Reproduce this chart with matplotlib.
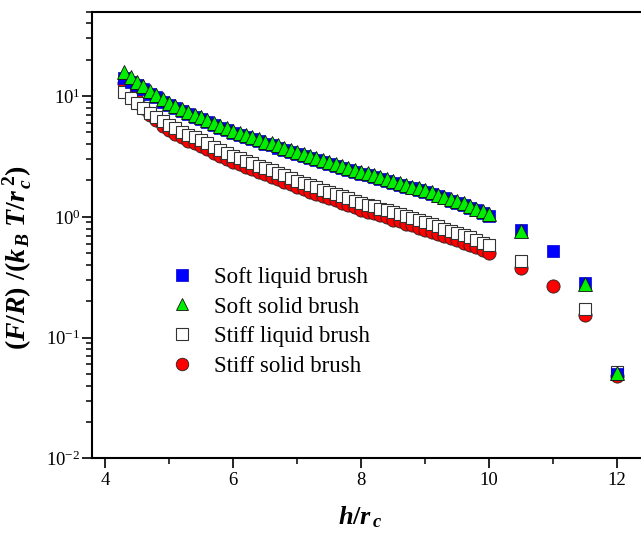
import numpy as np
import matplotlib
matplotlib.use("Agg")
import matplotlib.pyplot as plt
from matplotlib.lines import Line2D
from matplotlib.ticker import LogLocator, LogFormatterSciNotation, MultipleLocator, NullFormatter

plt.rcParams['font.family'] = ['Liberation Serif', 'DejaVu Serif']
plt.rcParams['mathtext.fontset'] = 'custom'
plt.rcParams['mathtext.rm'] = 'Liberation Serif:bold'
plt.rcParams['mathtext.it'] = 'Liberation Serif:bold:italic'
plt.rcParams['mathtext.bf'] = 'Liberation Serif:bold'

# separations h/r_c
h_main = [4.3, 4.4, 4.5, 4.6, 4.7, 4.8, 4.9, 5.0, 5.1, 5.2, 5.3, 5.4, 5.5, 5.6, 5.7,
          5.8, 5.9, 6.0, 6.1, 6.2, 6.3, 6.4, 6.5, 6.6, 6.7, 6.8, 6.9, 7.0, 7.1, 7.2,
          7.3, 7.4, 7.5, 7.6, 7.7, 7.8, 7.9, 8.0, 8.1, 8.2, 8.3, 8.4, 8.5, 8.6, 8.7,
          8.8, 8.9, 9.0, 9.1, 9.2, 9.3, 9.4, 9.5, 9.6, 9.7, 9.8, 9.9, 10.0]

# soft liquid brush
h_soft_liq = h_main + [10.5, 11.0, 11.5, 12.0]
f_soft_liq = [14.2, 13.2, 12.3, 11.4, 10.5, 9.8, 9.0, 8.4, 7.9, 7.5, 7.1, 6.75, 6.4, 6.1, 5.78,
              5.48, 5.2, 4.92, 4.72, 4.56, 4.38, 4.22, 4.04, 3.9, 3.75, 3.6, 3.46, 3.32, 3.2, 3.09,
              2.97, 2.86, 2.74, 2.65, 2.55, 2.46, 2.37, 2.28, 2.2, 2.13, 2.05, 1.97, 1.91, 1.84, 1.78,
              1.72, 1.66, 1.6, 1.54, 1.48, 1.42, 1.36, 1.3, 1.25, 1.19, 1.13, 1.07, 1.02,
              0.78, 0.52, 0.285, 0.05]

# soft solid brush
h_soft_sol = h_main + [10.5, 11.5, 12.0]
f_soft_sol = [15.7, 14.3, 13.2, 12.1, 11.1, 10.2, 9.4, 8.7, 8.2, 7.8, 7.4, 7.0, 6.7, 6.35, 6.0,
              5.7, 5.4, 5.1, 4.9, 4.75, 4.55, 4.4, 4.2, 4.05, 3.9, 3.75, 3.6, 3.45, 3.33, 3.21,
              3.09, 2.97, 2.85, 2.75, 2.65, 2.56, 2.46, 2.37, 2.29, 2.21, 2.13, 2.05, 1.98, 1.91, 1.85,
              1.78, 1.72, 1.66, 1.6, 1.53, 1.47, 1.41, 1.35, 1.29, 1.23, 1.17, 1.11, 1.05,
              0.77, 0.28, 0.051]

# stiff liquid brush
h_stiff_liq = h_main + [10.5, 11.5, 12.0]
f_stiff_liq = [10.9, 9.6, 8.7, 7.9, 7.25, 6.7, 6.2, 5.75, 5.4, 5.05, 4.75, 4.55, 4.33, 4.07, 3.82,
               3.6, 3.4, 3.2, 3.05, 2.92, 2.79, 2.66, 2.53, 2.42, 2.31, 2.2, 2.09, 1.98, 1.9, 1.83,
               1.75, 1.68, 1.61, 1.55, 1.49, 1.42, 1.36, 1.3, 1.26, 1.22, 1.17, 1.13, 1.09, 1.05, 1.01,
               0.97, 0.935, 0.9, 0.87, 0.84, 0.8, 0.77, 0.74, 0.71, 0.68, 0.645, 0.61, 0.58,
               0.43, 0.171, 0.052]

# stiff solid brush
h_stiff_sol = h_main + [10.5, 11.0, 11.5, 12.0]
f_stiff_sol = [12.8, 11.0, 9.3, 8.0, 7.0, 6.3, 5.7, 5.2, 4.85, 4.55, 4.25, 4.05, 3.85, 3.62, 3.4,
               3.2, 3.02, 2.85, 2.72, 2.6, 2.48, 2.36, 2.25, 2.15, 2.05, 1.95, 1.86, 1.76, 1.69, 1.62,
               1.55, 1.49, 1.42, 1.37, 1.31, 1.25, 1.2, 1.14, 1.1, 1.07, 1.03, 0.99, 0.95, 0.92, 0.88,
               0.85, 0.81, 0.78, 0.755, 0.725, 0.695, 0.665, 0.64, 0.61, 0.585, 0.56, 0.53, 0.5,
               0.38, 0.265, 0.155, 0.048]

labels = ['Soft liquid brush', 'Soft solid brush', 'Stiff liquid brush', 'Stiff solid brush']

fig = plt.figure(figsize=(6.41, 5.33), dpi=100)
ax = fig.add_axes([92.3 / 641, (533 - 458.3) / 533, 556.8 / 641, 446.6 / 533])

ax.plot(h_stiff_sol, f_stiff_sol, 'o', ms=9.5, mfc='#ff0000', mec='#222222', mew=0.6, ls='none', zorder=2)
ax.plot(h_stiff_liq, f_stiff_liq, 's', ms=9, mfc='white', mec='#333333', mew=0.8, ls='none', zorder=3)
ax.plot(h_soft_liq, f_soft_liq, 's', ms=9, mfc='#0000ff', mec='#0000cc', mew=0.5, ls='none', zorder=4)
ax.plot(h_soft_sol, f_soft_sol, '^', ms=10.5, mfc='#00ee00', mec='#111111', mew=0.6, ls='none', zorder=5)

ax.set_yscale('log')
ax.set_xlim(3.8, 12.5)
ax.set_ylim(0.01, 50)

ax.xaxis.set_major_locator(MultipleLocator(2))
ax.xaxis.set_minor_locator(MultipleLocator(1))
ax.yaxis.set_major_locator(LogLocator(base=10, numticks=10))
ax.yaxis.set_major_formatter(LogFormatterSciNotation())
ax.yaxis.set_minor_locator(LogLocator(base=10, subs=np.arange(2, 10), numticks=20))
ax.yaxis.set_minor_formatter(NullFormatter())

ax.tick_params(which='major', direction='out', length=7, width=1.2, labelsize=13.5)
ax.tick_params(axis='x', which='major', pad=3)
ax.tick_params(axis='y', which='major', pad=1.5)
ax.tick_params(which='minor', direction='out', length=4, width=1.1)
ax.tick_params(top=False, right=False)
for s in ax.spines.values():
    s.set_linewidth(1.5)

ax.set_ylabel(r'$\mathrm{(}F/R\mathrm{)\ /(}k_{\,B}\;T/r_{\,c}^{\;\mathrm{2}}\mathrm{)}$', fontsize=20)
ax.yaxis.set_label_coords(-0.105, 0.45)
ax.set_xlabel(r'$h/r_{\,c}$', fontsize=19)
ax.xaxis.set_label_coords(0.481, -0.104)

handles = [
    Line2D([], [], marker='s', ls='none', ms=8, mfc='#0000ff', mec='#0000cc', mew=0.5),
    Line2D([], [], marker='^', ls='none', ms=9, mfc='#00ee00', mec='#111111', mew=0.6),
    Line2D([], [], marker='s', ls='none', ms=8, mfc='white', mec='#333333', mew=0.8),
    Line2D([], [], marker='o', ls='none', ms=9, mfc='#ff0000', mec='#222222', mew=0.6),
]
ax.legend(handles, labels, loc='upper left', bbox_to_anchor=(0.142, 0.429), frameon=False,
          fontsize=16.5, handlelength=0.9, handletextpad=0.95, labelspacing=0.38, borderpad=0,
          borderaxespad=0)

fig.savefig('out.png', dpi=100)
